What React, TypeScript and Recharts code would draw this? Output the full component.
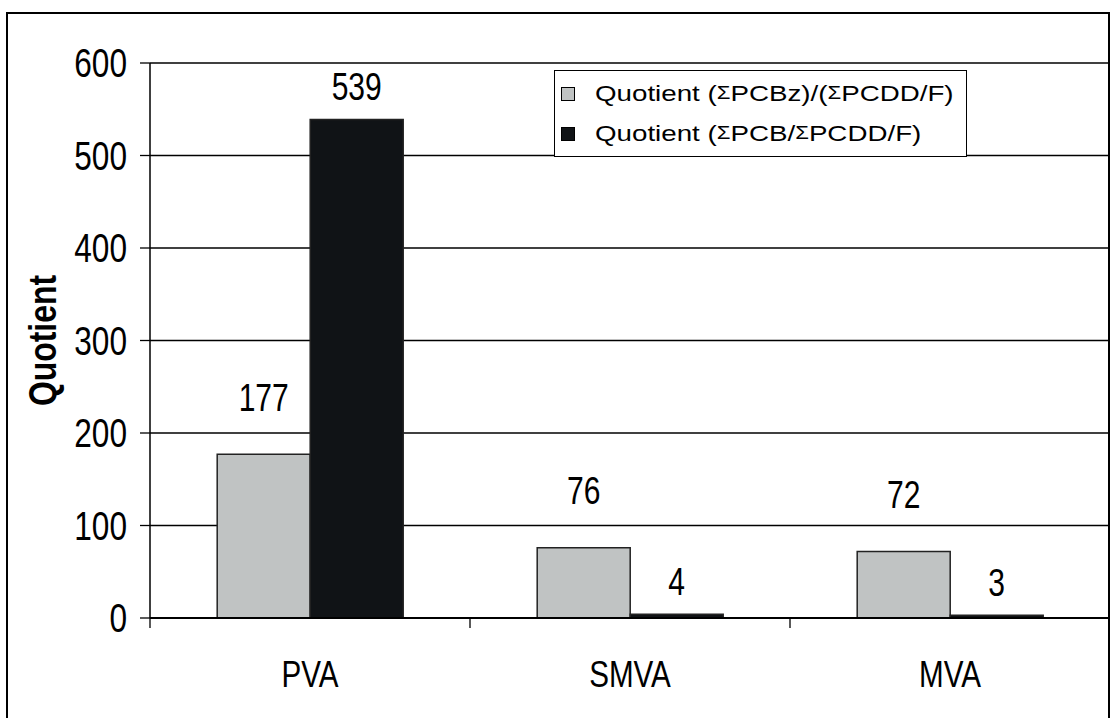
import React from 'react';
import { BarChart, Bar, XAxis, YAxis, CartesianGrid, Legend, LabelList } from 'recharts';

const categories = ['PVA', 'SMVA', 'MVA'];
const pcbzQuotient = [177, 76, 72];
const pcbQuotient = [539, 4, 3];
const yTicks = [0, 100, 200, 300, 400, 500, 600];
const boundaryTicks = [0, 1, 2, 3];
const legendLabels = [
  ['Quotient (', 'PCBz)/(', 'PCDD/F)'],
  ['Quotient (', 'PCB/', 'PCDD/F)'],
];
const seriesColors = ['#c0c3c3', '#101316'];

const data = categories.map((c, i) => ({
  name: c,
  idx: i + 0.5,
  pcbz: pcbzQuotient[i],
  pcb: pcbQuotient[i],
}));

const FONT = "'Liberation Sans', Arial, sans-serif";
const SX = 0.79;

const Sigma = () => (
  <span style={{ fontSize: '0.8em', position: 'relative', top: '-0.1em', fontWeight: 300 }}>Σ</span>
);

const LegendContent = () => (
  <div
    style={{
      border: '1px solid #000',
      background: '#fff',
      width: 413,
      height: 87,
      boxSizing: 'border-box',
      fontFamily: FONT,
      fontSize: 22,
      color: '#000',
      padding: '3px 0 0 6px',
    }}
  >
    {legendLabels.map((parts, i) => (
      <div key={i} style={{ display: 'flex', alignItems: 'center', height: 40, whiteSpace: 'nowrap' }}>
        <span
          style={{
            display: 'inline-block',
            width: 12,
            height: 12,
            background: seriesColors[i],
            border: '1px solid #000',
            marginRight: 20,
          }}
        />
        <span style={{ display: 'inline-block', transform: 'scaleX(1.26)', transformOrigin: 'left center' }}>
          {parts[0]}
          <Sigma />
          {parts[1]}
          <Sigma />
          {parts[2]}
        </span>
      </div>
    ))}
  </div>
);

const makeLabel = (offset: number) => (props: any) => {
  const { x, y, width, value } = props;
  return (
    <g transform={`translate(${x + width / 2},${y - offset})`}>
      <text
        transform={`scale(${SX},1)`}
        textAnchor="middle"
        dominantBaseline="central"
        fontFamily={FONT}
        fontSize={38}
        fill="#000"
      >
        {value}
      </text>
    </g>
  );
};

const YTick = (props: any) => {
  const { x, y, payload } = props;
  return (
    <g transform={`translate(${x},${y})`}>
      <text transform={`scale(${SX},1)`} textAnchor="end" dy="0.355em" fontFamily={FONT} fontSize={40} fill="#000">
        {payload.value}
      </text>
    </g>
  );
};

const XTick = (props: any) => {
  const { x, y, payload } = props;
  return (
    <g transform={`translate(${x},${y})`}>
      <text transform={`scale(0.8,1)`} textAnchor="middle" dy="0.71em" fontFamily={FONT} fontSize={37} fill="#000">
        {payload.value}
      </text>
    </g>
  );
};

const EmptyTick = () => <g />;

const YTitle = (props: any) => {
  const { viewBox } = props;
  const cx = viewBox.x + 42;
  const cy = viewBox.y + viewBox.height / 2;
  return (
    <g transform={`translate(${cx},${cy}) rotate(-90)`}>
      <text
        transform="scale(0.84,1)"
        textAnchor="middle"
        dominantBaseline="central"
        fontFamily={FONT}
        fontSize={38}
        fontWeight="bold"
        fill="#000"
      >
        Quotient
      </text>
    </g>
  );
};

export default function App() {
  return (
    <div style={{ position: 'absolute', left: 0, top: 0, width: 1110, height: 718, background: '#fff' }}>
      <div
        style={{
          position: 'absolute',
          left: 6,
          top: 12,
          width: 1104,
          height: 720,
          border: '2px solid #000',
          boxSizing: 'border-box',
        }}
      />
      <div style={{ position: 'absolute', left: 0, top: 0 }}>
        <BarChart
          width={1110}
          height={718}
          data={data}
          margin={{ top: 63, right: 0, bottom: 0, left: 0 }}
          barCategoryGap="21%"
          barGap={0}
        >
          <CartesianGrid vertical={false} stroke="#000" strokeWidth={1.3} xAxisId="cat" />
          <XAxis
            xAxisId="bound"
            type="number"
            dataKey="idx"
            domain={[0, 3]}
            ticks={boundaryTicks}
            interval={0}
            height={1}
            tick={EmptyTick}
            tickSize={10}
            tickLine={{ stroke: '#000', strokeWidth: 1.3 }}
            axisLine={{ stroke: '#000', strokeWidth: 2 }}
            allowDataOverflow
          />
          <XAxis
            xAxisId="cat"
            dataKey="name"
            height={99}
            axisLine={false}
            tickLine={false}
            tickSize={0}
            tickMargin={42}
            tick={<XTick />}
          />
          <YAxis
            width={150}
            domain={[0, 600]}
            ticks={yTicks}
            interval={0}
            tickSize={10}
            tickMargin={13}
            axisLine={{ stroke: '#000', strokeWidth: 1.5 }}
            tickLine={{ stroke: '#000', strokeWidth: 1.3 }}
            tick={<YTick />}
            label={<YTitle />}
          />
          <Legend
            layout="horizontal"
            verticalAlign="middle"
            align="center"
            wrapperStyle={{ position: 'absolute', left: 554, top: 70, width: 413 }}
            content={LegendContent}
          />
          <Bar xAxisId="cat" dataKey="pcbz" fill={seriesColors[0]} stroke="#222" strokeWidth={1.5} isAnimationActive={false}>
            <LabelList dataKey="pcbz" content={makeLabel(57)} />
          </Bar>
          <Bar xAxisId="cat" dataKey="pcb" fill={seriesColors[1]} stroke="#222" strokeWidth={1.5} isAnimationActive={false}>
            <LabelList dataKey="pcb" content={makeLabel(33)} />
          </Bar>
        </BarChart>
      </div>
    </div>
  );
}
